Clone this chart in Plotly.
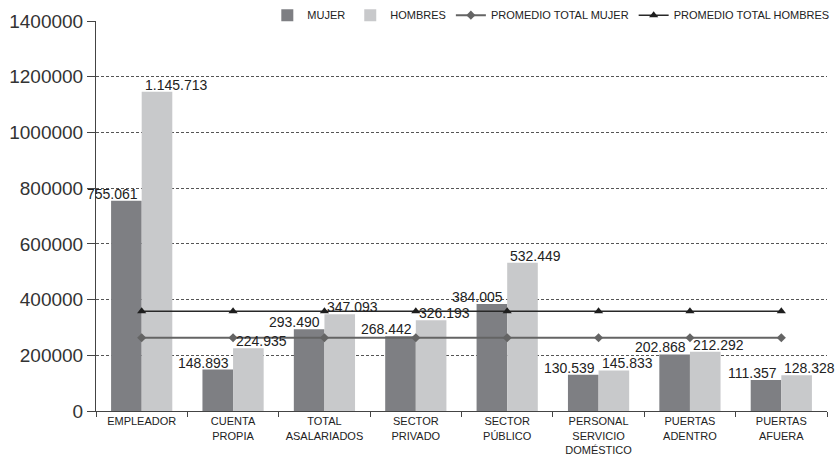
import plotly.graph_objects as go

# Ingreso promedio por categoria ocupacional, segun sexo
categorias = ["EMPLEADOR", "CUENTA<br>PROPIA", "TOTAL<br>ASALARIADOS", "SECTOR<br>PRIVADO",
              "SECTOR<br>PÚBLICO", "PERSONAL<br>SERVICIO<br>DOMÉSTICO", "PUERTAS<br>ADENTRO",
              "PUERTAS<br>AFUERA"]
mujer = [755061, 148893, 293490, 268442, 384005, 130539, 202868, 111357]
hombres = [1145713, 224935, 347093, 326193, 532449, 145833, 212292, 128328]
mujer_txt = ["755.061", "148.893", "293.490", "268.442", "384.005", "130.539", "202.868", "111.357"]
hombres_txt = ["1.145.713", "224.935", "347.093", "326.193", "532.449", "145.833", "212.292", "128.328"]
prom_mujer = [263000, 263000, 263000, 263000, 263000, 263000, 263000, 263000]
prom_hombres = [358000, 358000, 358000, 358000, 358000, 358000, 358000, 358000]
y_ticks = [0, 200000, 400000, 600000, 800000, 1000000, 1200000, 1400000]

SANS = "Liberation Sans, Arial, Helvetica, sans-serif"

fig = go.Figure()

fig.add_trace(go.Bar(x=categorias, y=mujer, name="MUJER",
                     marker_color="rgb(126,127,131)", marker_line_width=0))
fig.add_trace(go.Bar(x=categorias, y=hombres, name="HOMBRES",
                     marker_color="rgb(200,201,203)", marker_line_width=0))

fig.add_trace(go.Scatter(x=categorias, y=prom_mujer, mode="lines+markers",
                         name="PROMEDIO TOTAL MUJER",
                         line=dict(color="rgb(100,100,100)", width=2),
                         marker=dict(symbol="diamond", size=7, color="rgb(100,100,100)")))
fig.add_trace(go.Scatter(x=categorias, y=prom_hombres, mode="lines+markers",
                         name="PROMEDIO TOTAL HOMBRES",
                         line=dict(color="rgb(40,40,40)", width=1.5),
                         marker=dict(symbol="triangle-up", size=8, color="rgb(30,30,30)")))

# value labels: women to the left of the category centre, men to the right
for c, v, t in zip(categorias, mujer, mujer_txt):
    fig.add_annotation(x=c, y=v, text=t, showarrow=False, xanchor="right", yanchor="bottom",
                       xshift=-2, yshift=-3, font=dict(family=SANS, size=14, color="#222"))
for c, v, t in zip(categorias, hombres, hombres_txt):
    fig.add_annotation(x=c, y=v, text=t, showarrow=False, xanchor="left", yanchor="bottom",
                       xshift=1, yshift=-3, font=dict(family=SANS, size=14, color="#222"))

fig.update_layout(
    width=836, height=458,
    margin=dict(l=96, r=9, t=21, b=47, autoexpand=False),
    paper_bgcolor="white", plot_bgcolor="white",
    barmode="group", bargap=0.33, bargroupgap=0,
    font=dict(family=SANS, color="#222"),
    legend=dict(orientation="h", x=1.01, xanchor="right", y=1.015, yanchor="middle",
                font=dict(family=SANS, size=11, color="#222"),
                bgcolor="rgba(0,0,0,0)", itemwidth=30, tracegroupgap=0),
    showlegend=True,
)

fig.update_xaxes(range=[-0.5, 7.5], showline=True, linecolor="#444", linewidth=1,
                 ticks="outside", tickson="boundaries", ticklen=5, tickcolor="#444",
                 tickangle=0, automargin=False,
                 tickfont=dict(family=SANS, size=11, color="#222"),
                 showgrid=False)
fig.update_yaxes(range=[0, 1400000], tickvals=y_ticks, tickformat="d",
                 showline=True, linecolor="#444", linewidth=1,
                 ticks="outside", ticklen=8, tickcolor="#444", automargin=False,
                 tickfont=dict(family=SANS, size=19, color="#333"),
                 showgrid=True, gridcolor="#555", gridwidth=1, griddash="3px,2px",
                 zeroline=False)

# drop the default page margin so the 836x458 figure fills the window exactly
fig.write_html("out.html", config={"displayModeBar": False},
               post_script="document.body.style.margin = '0px';")
